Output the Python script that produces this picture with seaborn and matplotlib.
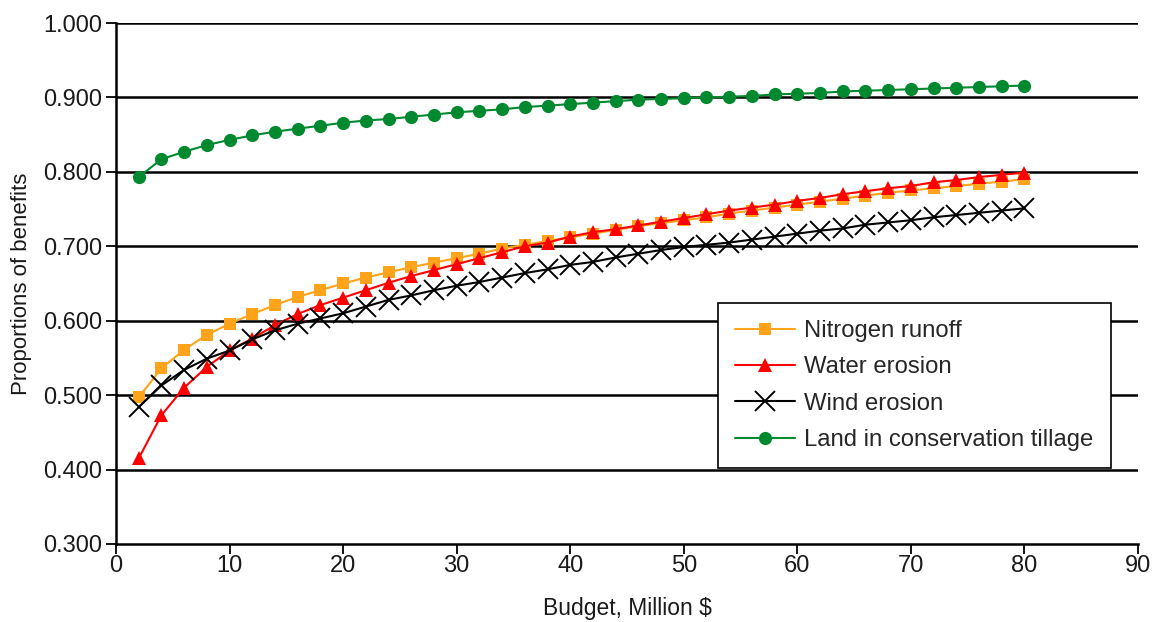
import matplotlib
matplotlib.use("Agg")
import matplotlib.pyplot as plt
import seaborn as sns
import pandas as pd

budget = [2, 4, 6, 8, 10, 12, 14, 16, 18, 20, 22, 24, 26, 28, 30, 32, 34, 36, 38, 40,
          42, 44, 46, 48, 50, 52, 54, 56, 58, 60, 62, 64, 66, 68, 70, 72, 74, 76, 78, 80]

nitrogen = [0.497, 0.536, 0.561, 0.581, 0.596, 0.609, 0.621, 0.632, 0.641, 0.650,
            0.658, 0.665, 0.672, 0.678, 0.684, 0.690, 0.697, 0.702, 0.707, 0.712,
            0.717, 0.722, 0.727, 0.731, 0.735, 0.739, 0.744, 0.748, 0.752, 0.756,
            0.760, 0.764, 0.768, 0.772, 0.775, 0.778, 0.781, 0.784, 0.787, 0.790]

water = [0.415, 0.473, 0.510, 0.538, 0.560, 0.576, 0.594, 0.609, 0.621, 0.631,
         0.641, 0.651, 0.660, 0.668, 0.676, 0.684, 0.692, 0.700, 0.705, 0.713,
         0.719, 0.723, 0.728, 0.733, 0.738, 0.743, 0.748, 0.752, 0.756, 0.761,
         0.765, 0.770, 0.774, 0.778, 0.781, 0.786, 0.789, 0.793, 0.796, 0.799]

wind = [0.484, 0.513, 0.534, 0.549, 0.560, 0.575, 0.587, 0.596, 0.603, 0.610,
        0.619, 0.628, 0.634, 0.641, 0.647, 0.652, 0.658, 0.664, 0.669, 0.675,
        0.679, 0.685, 0.690, 0.695, 0.699, 0.702, 0.705, 0.709, 0.713, 0.717,
        0.721, 0.724, 0.729, 0.732, 0.735, 0.739, 0.742, 0.745, 0.748, 0.751]

tillage = [0.793, 0.817, 0.827, 0.836, 0.843, 0.849, 0.854, 0.858, 0.862, 0.866,
           0.869, 0.871, 0.874, 0.877, 0.880, 0.882, 0.884, 0.887, 0.889, 0.891,
           0.893, 0.895, 0.897, 0.898, 0.899, 0.900, 0.901, 0.902, 0.904, 0.905,
           0.906, 0.908, 0.909, 0.910, 0.911, 0.912, 0.913, 0.914, 0.915, 0.916]

series_names = ["Nitrogen runoff", "Water erosion", "Wind erosion",
                "Land in conservation tillage"]
series_values = [nitrogen, water, wind, tillage]

y_ticks = [0.3, 0.4, 0.5, 0.6, 0.7, 0.8, 0.9, 1.0]
x_ticks = [0, 10, 20, 30, 40, 50, 60, 70, 80, 90]

sns.set_theme(style="white")
plt.rcParams["font.family"] = ["Liberation Sans", "DejaVu Sans"]

styles = {
    "Nitrogen runoff": dict(color="#FFA31A", marker="s", markersize=8.5, mew=0),
    "Water erosion": dict(color="#FF0000", marker="^", markersize=9.5, mew=0),
    "Wind erosion": dict(color="#000000", marker="x", markersize=14, mew=1.4),
    "Land in conservation tillage": dict(color="#00892F", marker="o", markersize=9.5, mew=0),
}

fig = plt.figure(figsize=(11.64, 6.22), dpi=100)
ax = fig.add_axes([116 / 1164, 1 - 544 / 622, (1138 - 116) / 1164, (544 - 23) / 622])

for name, vals in zip(series_names, series_values):
    df = pd.DataFrame({"Budget": budget, "Value": vals})
    st = styles[name]
    sns.lineplot(data=df, x="Budget", y="Value", ax=ax, color=st["color"],
                 marker=st["marker"], markersize=st["markersize"],
                 markeredgewidth=st["mew"], markeredgecolor=st["color"],
                 linewidth=1.5, label=name, zorder=3)

ax.set_xlim(0, 90)
ax.set_ylim(0.3, 1.0)
ax.set_xticks(x_ticks)
ax.set_yticks(y_ticks)
ax.set_yticklabels([f"{v:.3f}" for v in y_ticks])
ax.set_xticklabels([str(v) for v in x_ticks])

for v in y_ticks[1:]:
    ax.axhline(v, color="black", linewidth=1.8, zorder=1)

for s in ["top", "right"]:
    ax.spines[s].set_visible(False)
for s in ["left", "bottom"]:
    ax.spines[s].set_color("black")
    ax.spines[s].set_linewidth(1.8)

ax.tick_params(axis="both", which="major", direction="out", length=7, width=1.3,
               color="black", labelcolor="#1a1a1a", bottom=True, left=True)
ax.tick_params(axis="y", labelsize=17, pad=3)
ax.tick_params(axis="x", labelsize=17, pad=1)

ax.set_xlabel("Budget, Million $", fontsize=16.5, color="#1a1a1a", labelpad=14)
ax.set_ylabel("Proportions of benefits", fontsize=16, color="#1a1a1a", labelpad=8)

leg = ax.legend(loc="upper left", bbox_to_anchor=(0.589, 0.463), frameon=True,
                fancybox=False, edgecolor="black", fontsize=17.2, handlelength=2.5,
                borderpad=0.72, labelspacing=0.6, handletextpad=0.4, borderaxespad=0)
leg.get_frame().set_linewidth(1.2)
leg.get_frame().set_facecolor("white")
leg.get_frame().set_alpha(1)
leg.set_zorder(5)

fig.savefig("out.png", dpi=100)
